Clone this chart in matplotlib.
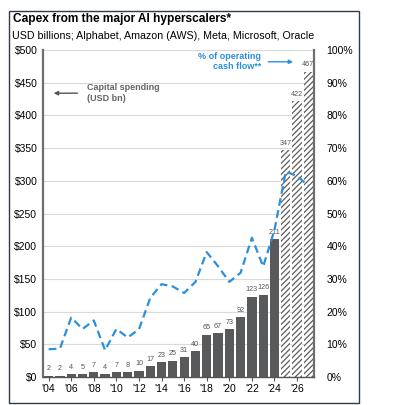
import matplotlib.pyplot as plt
from matplotlib.patches import Rectangle

plt.rcParams['font.family'] = ['Liberation Sans', 'DejaVu Sans']
plt.rcParams['hatch.linewidth'] = 0.9

# Data
years = list(range(2004, 2028))
capex = [2, 2, 4, 5, 7, 4, 7, 8, 10, 17, 23, 25, 31, 40, 65, 67, 73, 92,
         123, 126, 211, 347, 422, 467]
cash_flow_pct = [8.5, 8.7, 18.2, 14.7, 17.3, 8.2, 14.7, 12.1, 14.6, 24.2,
                 28.4, 27.7, 25.7, 29.1, 38.2, 33.9, 29.1, 31.9, 42.6, 33.8,
                 45.0, 62.8, 61.5, 58.5]
n_actual = 21  # 2004-2024 actual, 2025-2027 estimates
tick_years = list(range(2004, 2028, 2))
tick_labels = ["'%02d" % (y % 100) for y in tick_years]

bar_col = '#58595b'
blue = '#2b90dc'
grey_txt = '#555555'

fig = plt.figure(figsize=(4.11, 4.05), dpi=100)
ax = fig.add_axes([0.1046, 0.069, 0.6594, 0.8075])

# bars
ax.bar(years[:n_actual], capex[:n_actual], width=0.82, color=bar_col, zorder=2)
ax.bar(years[n_actual:], capex[n_actual:], width=0.82, color='white',
       edgecolor='#5e5e5e', hatch='//////', linewidth=0, zorder=2)

for x, v in zip(years, capex):
    ax.text(x, v + 5, str(v), ha='center', va='bottom', fontsize=5.2,
            color=grey_txt, zorder=3)

ax.set_xlim(2003.5, 2027.5)
ax.set_ylim(0, 500)
ax.set_yticks(range(0, 501, 50))
ax.set_yticklabels(['$%d' % v for v in range(0, 501, 50)], fontsize=7.5)
ax.set_xticks(tick_years)
ax.set_xticklabels(tick_labels, fontsize=7.5)
ax.yaxis.grid(True, color='#d9d9d9', linewidth=0.8, zorder=0)
ax.set_axisbelow(True)
ax.tick_params(axis='y', length=0, pad=4)
ax.tick_params(axis='x', length=3, width=0.8, color='#555555', pad=2)
ax.spines['top'].set_visible(False)
ax.spines['left'].set_color('#6d6e70')
ax.spines['left'].set_linewidth(1.6)
ax.spines['right'].set_color('#6d6e70')
ax.spines['right'].set_linewidth(1.6)
ax.spines['bottom'].set_color('#555555')
ax.spines['bottom'].set_linewidth(1.0)

# line on secondary axis
ax2 = ax.twinx()
ax2.plot(years, cash_flow_pct, color=blue, linestyle=(0, (3.5, 2)),
         linewidth=1.6, zorder=4)
ax2.set_ylim(0, 100)
ax2.set_yticks(range(0, 101, 10))
ax2.set_yticklabels(['%d%%' % v for v in range(0, 101, 10)], fontsize=7.5)
ax2.tick_params(axis='y', length=0, pad=9)
for s in ['top', 'left', 'bottom', 'right']:
    ax2.spines[s].set_visible(False)

# annotations
ax.annotate('', xy=(2004.2, 434), xytext=(2006.8, 434),
            arrowprops=dict(arrowstyle='-|>', color='#555555', lw=1.0,
                            mutation_scale=6))
ax.text(2007.4, 434, 'Capital spending\n(USD bn)', fontsize=6.5,
        color='#666666', fontweight='bold', va='center', ha='left',
        linespacing=1.2)
ax.annotate('', xy=(2025.9, 482), xytext=(2023.2, 482),
            arrowprops=dict(arrowstyle='-|>', color=blue, lw=1.0,
                            mutation_scale=6))
ax.text(2022.8, 482, '% of operating\ncash flow**', fontsize=6.5,
        color=blue, fontweight='bold', va='center', ha='right',
        linespacing=1.2, multialignment='right')

# titles
fig.text(0.032, 0.952, 'Capex from the major AI hyperscalers*', fontsize=8.6,
         fontweight='bold', va='center', ha='left')
fig.text(0.029, 0.912, 'USD billions; Alphabet, Amazon (AWS), Meta, Microsoft, Oracle',
         fontsize=7.7, va='center', ha='left')

# frame
fig.add_artist(Rectangle((0.022, 0.006), 0.851, 0.966, transform=fig.transFigure,
                         fill=False, edgecolor='#2f3b4c', linewidth=1.0))

fig.savefig('out.png', dpi=100)
